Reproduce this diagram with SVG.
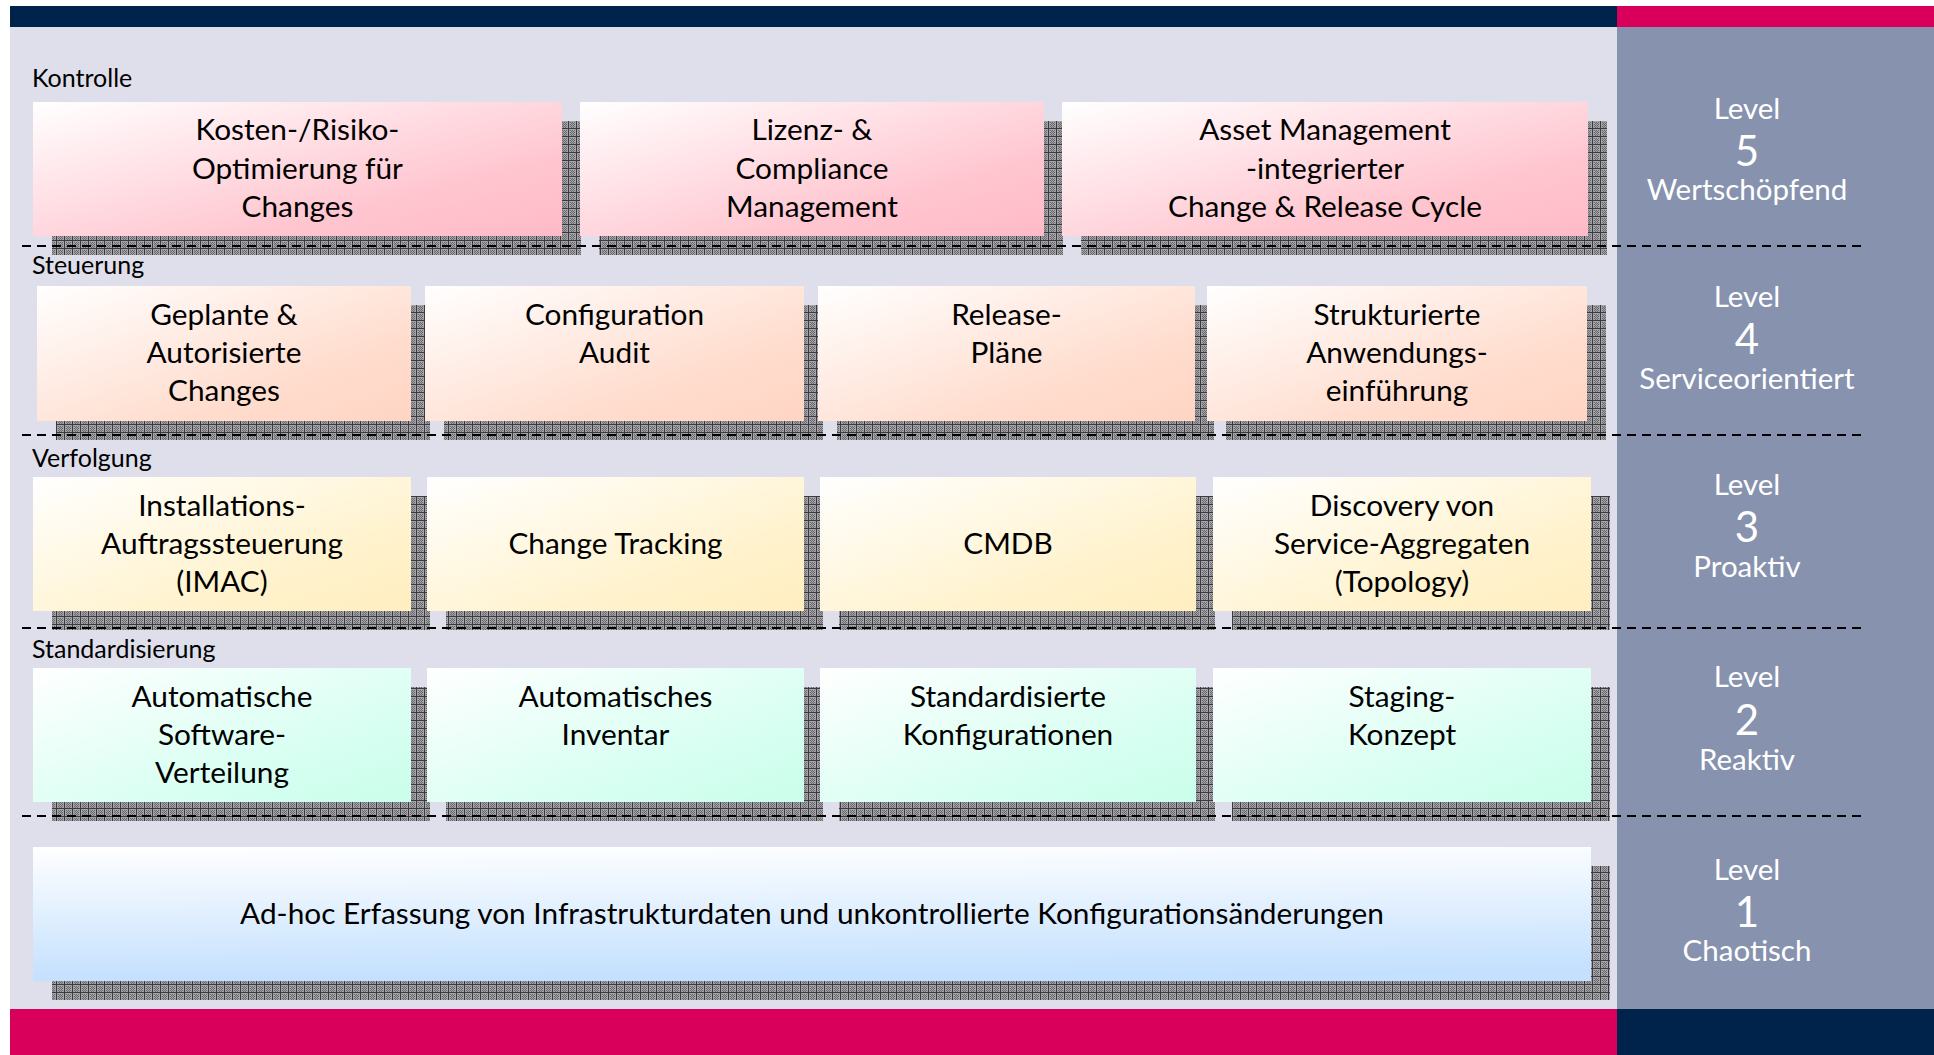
<svg xmlns="http://www.w3.org/2000/svg" width="1934" height="1055" viewBox="0 0 1934 1055">
<defs>
<pattern id="hatch" width="8" height="8" patternUnits="userSpaceOnUse">
<rect width="8" height="8" fill="#a4a4a8"/>
<path d="M0 0.5H8M0.5 0V8" stroke="#3a3a3e" stroke-width="1"/>
<path d="M2 2h1v1h-1zM4 2h1v1h-1zM6 2h1v1h-1zM3 3h1v1h-1zM5 3h1v1h-1zM2 4h1v1h-1zM4 4h1v1h-1zM6 4h1v1h-1zM3 5h1v1h-1zM5 5h1v1h-1zM2 6h1v1h-1zM4 6h1v1h-1zM6 6h1v1h-1zM3 7h1v1h-1zM5 7h1v1h-1z" fill="#6a6a6e"/>
</pattern>
<linearGradient id="gPink" x1="0" y1="0" x2="1" y2="1"><stop offset="0" stop-color="#ffffff"/><stop offset="0.7" stop-color="#ffc6d0"/><stop offset="1" stop-color="#ffbac7"/></linearGradient>
<linearGradient id="gPeach" x1="0" y1="0" x2="1" y2="1"><stop offset="0" stop-color="#ffffff"/><stop offset="0.7" stop-color="#ffdccd"/><stop offset="1" stop-color="#ffd5c4"/></linearGradient>
<linearGradient id="gYellow" x1="0" y1="0" x2="1" y2="1"><stop offset="0" stop-color="#ffffff"/><stop offset="0.7" stop-color="#fff2cc"/><stop offset="1" stop-color="#ffeec0"/></linearGradient>
<linearGradient id="gMint" x1="0" y1="0" x2="1" y2="1"><stop offset="0" stop-color="#ffffff"/><stop offset="0.7" stop-color="#d6fff1"/><stop offset="1" stop-color="#cafeea"/></linearGradient>
<linearGradient id="gBlue" x1="0" y1="0" x2="0.08" y2="1"><stop offset="0" stop-color="#ffffff"/><stop offset="1" stop-color="#c3e0fe"/></linearGradient>
<style>
.bg{fill:#dedfeb}
.panel{fill:#8792ae}
.navy{fill:#00234b}
.pink{fill:#d8005a}
.shadow{fill:url(#hatch)}
.sep{stroke:#000;stroke-width:2;stroke-dasharray:9 6;fill:none}
.lbl{font-family:Lato,"Liberation Sans",sans-serif;font-size:25px;fill:#000}
.bt{font-family:Lato,"Liberation Sans",sans-serif;font-size:29.8px;fill:#000;text-anchor:middle}
.lv{font-family:Lato,"Liberation Sans",sans-serif;font-size:29.5px;fill:#fff;text-anchor:middle}
.num{font-family:Lato,"Liberation Sans",sans-serif;font-size:42px;fill:#fff;text-anchor:middle}
</style>
</defs>
<rect width="1934" height="1055" fill="#ffffff"/>
<g id="frame">
<rect class="bg" x="10" y="27" width="1607" height="982"/>
<rect class="panel" x="1617" y="27" width="317" height="982"/>
<rect class="navy" x="10" y="6" width="1607" height="21"/>
<rect class="pink" x="1617" y="6" width="317" height="21"/>
<rect class="pink" x="10" y="1009" width="1607" height="46"/>
<rect class="navy" x="1617" y="1009" width="317" height="46"/>
</g>
<g id="shadows">
<rect class="shadow" x="52" y="121" width="529" height="134"/>
<rect class="shadow" x="599" y="121" width="464" height="134"/>
<rect class="shadow" x="1081" y="121" width="526" height="134"/>
<rect class="shadow" x="56" y="305" width="374" height="135"/>
<rect class="shadow" x="444" y="305" width="379" height="135"/>
<rect class="shadow" x="837" y="305" width="377" height="135"/>
<rect class="shadow" x="1226" y="305" width="380" height="135"/>
<rect class="shadow" x="52" y="496" width="378" height="134"/>
<rect class="shadow" x="446" y="496" width="377" height="134"/>
<rect class="shadow" x="839" y="496" width="376" height="134"/>
<rect class="shadow" x="1232" y="496" width="378" height="134"/>
<rect class="shadow" x="52" y="687" width="378" height="134"/>
<rect class="shadow" x="446" y="687" width="377" height="134"/>
<rect class="shadow" x="839" y="687" width="376" height="134"/>
<rect class="shadow" x="1232" y="687" width="378" height="134"/>
<rect class="shadow" x="52" y="866" width="1558" height="134"/>
</g>
<g id="connectors">
<path class="sep" d="M22 246H1867M22 435H1867M22 628H1867M22 816H1867"/>
</g>
<g id="row-labels">
<text class="lbl" x="32" y="87">Kontrolle</text>
<text class="lbl" x="32" y="274">Steuerung</text>
<text class="lbl" x="32" y="467">Verfolgung</text>
<text class="lbl" x="32" y="658">Standardisierung</text>
</g>
<g id="n5a"><rect x="33" y="102" width="529" height="134" fill="url(#gPink)"/>
<text class="bt" x="297.5" y="140">Kosten-/Risiko-</text><text class="bt" x="297.5" y="179">Optimierung für</text><text class="bt" x="297.5" y="217">Changes</text></g>
<g id="n5b"><rect x="580" y="102" width="464" height="134" fill="url(#gPink)"/>
<text class="bt" x="812" y="140">Lizenz- &amp;</text><text class="bt" x="812" y="179">Compliance</text><text class="bt" x="812" y="217">Management</text></g>
<g id="n5c"><rect x="1062" y="102" width="526" height="134" fill="url(#gPink)"/>
<text class="bt" x="1325" y="140">Asset Management</text><text class="bt" x="1325" y="179">-integrierter</text><text class="bt" x="1325" y="217">Change &amp; Release Cycle</text></g>
<g id="n4a"><rect x="37" y="286" width="374" height="135" fill="url(#gPeach)"/>
<text class="bt" x="224" y="325">Geplante &amp;</text><text class="bt" x="224" y="363">Autorisierte</text><text class="bt" x="224" y="401">Changes</text></g>
<g id="n4b"><rect x="425" y="286" width="379" height="135" fill="url(#gPeach)"/>
<text class="bt" x="614.5" y="325">Configuration</text><text class="bt" x="614.5" y="363">Audit</text></g>
<g id="n4c"><rect x="818" y="286" width="377" height="135" fill="url(#gPeach)"/>
<text class="bt" x="1006.5" y="325">Release-</text><text class="bt" x="1006.5" y="363">Pläne</text></g>
<g id="n4d"><rect x="1207" y="286" width="380" height="135" fill="url(#gPeach)"/>
<text class="bt" x="1397" y="325">Strukturierte</text><text class="bt" x="1397" y="363">Anwendungs-</text><text class="bt" x="1397" y="401">einführung</text></g>
<g id="n3a"><rect x="33" y="477" width="378" height="134" fill="url(#gYellow)"/>
<text class="bt" x="222" y="516">Installations-</text><text class="bt" x="222" y="554">Auftragssteuerung</text><text class="bt" x="222" y="592">(IMAC)</text></g>
<g id="n3b"><rect x="427" y="477" width="377" height="134" fill="url(#gYellow)"/>
<text class="bt" x="615.5" y="554">Change Tracking</text></g>
<g id="n3c"><rect x="820" y="477" width="376" height="134" fill="url(#gYellow)"/>
<text class="bt" x="1008" y="554">CMDB</text></g>
<g id="n3d"><rect x="1213" y="477" width="378" height="134" fill="url(#gYellow)"/>
<text class="bt" x="1402" y="516">Discovery von</text><text class="bt" x="1402" y="554">Service-Aggregaten</text><text class="bt" x="1402" y="592">(Topology)</text></g>
<g id="n2a"><rect x="33" y="668" width="378" height="134" fill="url(#gMint)"/>
<text class="bt" x="222" y="707">Automatische</text><text class="bt" x="222" y="745">Software-</text><text class="bt" x="222" y="783">Verteilung</text></g>
<g id="n2b"><rect x="427" y="668" width="377" height="134" fill="url(#gMint)"/>
<text class="bt" x="615.5" y="707">Automatisches</text><text class="bt" x="615.5" y="745">Inventar</text></g>
<g id="n2c"><rect x="820" y="668" width="376" height="134" fill="url(#gMint)"/>
<text class="bt" x="1008" y="707">Standardisierte</text><text class="bt" x="1008" y="745">Konfigurationen</text></g>
<g id="n2d"><rect x="1213" y="668" width="378" height="134" fill="url(#gMint)"/>
<text class="bt" x="1402" y="707">Staging-</text><text class="bt" x="1402" y="745">Konzept</text></g>
<g id="n1"><rect x="33" y="847" width="1558" height="134" fill="url(#gBlue)"/>
<text class="bt" x="812" y="924">Ad-hoc Erfassung von Infrastrukturdaten und unkontrollierte Konfigurationsänderungen</text></g>
<g id="level5"><text class="lv" x="1747" y="119">Level</text><text class="num" x="1747" y="166">5</text><text class="lv" x="1747" y="200">Wertschöpfend</text></g>
<g id="level4"><text class="lv" x="1747" y="307">Level</text><text class="num" x="1747" y="354">4</text><text class="lv" x="1747" y="389">Serviceorientiert</text></g>
<g id="level3"><text class="lv" x="1747" y="495">Level</text><text class="num" x="1747" y="542">3</text><text class="lv" x="1747" y="577">Proaktiv</text></g>
<g id="level2"><text class="lv" x="1747" y="687">Level</text><text class="num" x="1747" y="735">2</text><text class="lv" x="1747" y="770">Reaktiv</text></g>
<g id="level1"><text class="lv" x="1747" y="880">Level</text><text class="num" x="1747" y="927">1</text><text class="lv" x="1747" y="961">Chaotisch</text></g>
</svg>
